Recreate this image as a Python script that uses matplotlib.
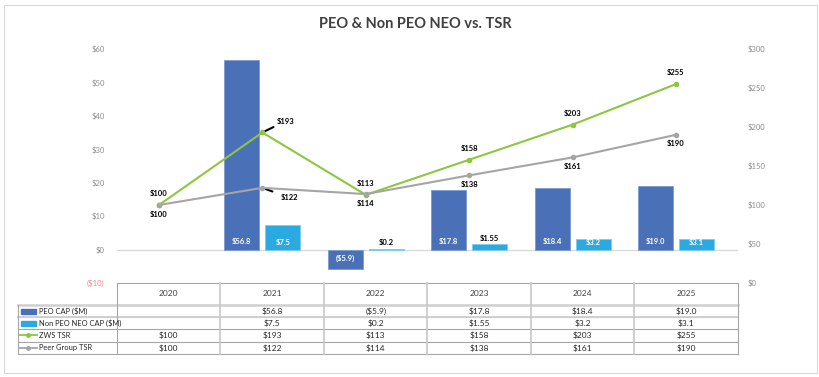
import matplotlib
matplotlib.use("Agg")
import matplotlib.pyplot as plt
from matplotlib.patches import Rectangle
from matplotlib.lines import Line2D

plt.rcParams['font.family'] = ['Lato', 'DejaVu Sans']

# Data
years = ["2020", "2021", "2022", "2023", "2024", "2025"]
peo_cap = [None, 56.8, -5.9, 17.8, 18.4, 19.0]
non_peo_cap = [None, 7.5, 0.2, 1.55, 3.2, 3.1]
zws_tsr = [100, 193, 113, 158, 203, 255]
peer_tsr = [100, 122, 114, 138, 161, 190]

left_ticks = [-10, 0, 10, 20, 30, 40, 50, 60]
right_ticks = [0, 50, 100, 150, 200, 250, 300]

c_peo = "#4A70B8"
c_non = "#2AAAE1"
c_zws = "#8DC63F"
c_peer = "#A5A5A5"

W, H = 820, 377
fig = plt.figure(figsize=(W / 100, H / 100), dpi=100)

def fx(px):
    return px / W

def fy(py):
    return 1 - py / H

# main plot area
x0, x1, ytop, ybot = 117, 738, 49, 283
ax = fig.add_axes([fx(x0), fy(ybot), fx(x1) - fx(x0), fy(ytop) - fy(ybot)])
ax2 = ax.twinx()

n = len(years)
xs = list(range(n))
bw = 0.338
off = 0.198

def money(v, fmt):
    if v < 0:
        return "($" + format(-v, fmt) + ")"
    return "$" + format(v, fmt)

for i in xs:
    v = peo_cap[i]
    if v is not None:
        ax.bar(i - off, v, bw, color=c_peo, edgecolor="#7D9AD0", linewidth=0.6, zorder=2)
        dy = 6 if v > 0 else -6.5
        ax.annotate(money(v, ".1f"), (i - off, 0), xytext=(0, dy), textcoords="offset points",
                    ha="center", va="center", fontsize=5.5, fontweight="bold", color="white", zorder=5)
    v = non_peo_cap[i]
    if v is not None:
        ax.bar(i + off, v, bw, color=c_non, edgecolor="#7FCBEE", linewidth=0.6, zorder=2)
        if v > 2.5:
            ax.annotate(money(v, "g"), (i + off, 0), xytext=(0, 5), textcoords="offset points",
                        ha="center", va="center", fontsize=5.5, fontweight="bold", color="white", zorder=5)
        else:
            ax.annotate(money(v, "g"), (i + off, v), xytext=(0, 4.5), textcoords="offset points",
                        ha="center", va="center", fontsize=5.5, fontweight="bold", color="black", zorder=5)

ax.axhline(0, color="#D9D9D9", linewidth=0.9, zorder=1)
ax.set_xlim(-0.406, 5.6)
ax.set_ylim(-10, 60)
ax2.set_ylim(0, 300)

ax2.plot(xs, zws_tsr, color=c_zws, linewidth=1.5, marker="o", markersize=3, zorder=4)
ax2.plot(xs, peer_tsr, color=c_peer, linewidth=1.5, marker="o", markersize=3, zorder=4)

# TSR labels
for i in xs:
    if i == 1:
        ax2.annotate("$" + str(zws_tsr[i]), (i, zws_tsr[i]), xytext=(10, 8), textcoords="offset points",
                     ha="left", va="center", fontsize=5.5, fontweight="bold",
                     arrowprops=dict(arrowstyle="-", color="black", lw=1.5, shrinkA=0, shrinkB=1))
        ax2.annotate("$" + str(peer_tsr[i]), (i, peer_tsr[i]), xytext=(13, -7), textcoords="offset points",
                     ha="left", va="center", fontsize=5.5, fontweight="bold",
                     arrowprops=dict(arrowstyle="-", color="black", lw=1.5, shrinkA=4, shrinkB=1))
    else:
        ax2.annotate("$" + str(zws_tsr[i]), (i, zws_tsr[i]), xytext=(0, 8), textcoords="offset points",
                     ha="center", va="center", fontsize=5.5, fontweight="bold")
        ax2.annotate("$" + str(peer_tsr[i]), (i, peer_tsr[i]), xytext=(0, -6.5), textcoords="offset points",
                     ha="center", va="center", fontsize=5.5, fontweight="bold")

for a in (ax, ax2):
    for s in a.spines.values():
        s.set_visible(False)
    a.set_xticks([])
    a.patch.set_visible(False)

ax.set_yticks(left_ticks)
ax.set_yticklabels([money(t, "d") for t in left_ticks], fontsize=5.5, color="#8C8C8C")
ax.tick_params(axis="y", length=0, pad=9)
for t, lab in zip(left_ticks, ax.get_yticklabels()):
    if t < 0:
        lab.set_color("#F28C8C")
ax2.set_yticks(right_ticks)
ax2.set_yticklabels([money(t, "d") for t in right_ticks], fontsize=5.5, color="#8C8C8C")
ax2.tick_params(axis="y", length=0, pad=7)

# overlay for frame, title and data table
lay = fig.add_axes([0, 0, 1, 1], zorder=-1)
lay.set_xlim(0, W)
lay.set_ylim(H, 0)
lay.axis("off")
lay.add_patch(Rectangle((4, 5), 813, 368, fill=False, edgecolor="#D9D9D9", linewidth=0.8))
lay.text(415, 24, "PEO & Non PEO NEO vs. TSR", ha="center", va="center",
         fontsize=10.5, fontweight="bold", color="#404040")

tab = fig.add_axes([0, 0, 1, 1], zorder=3)
tab.set_xlim(0, W)
tab.set_ylim(H, 0)
tab.axis("off")
tab.patch.set_visible(False)

col_w = (x1 - x0) / n
head_top, head_bot = 283, 305
row_edges = [305, 317, 329, 341.5, 354]
lc = "#A6A6A6"
# grid
tab.plot([x0, x1], [head_top, head_top], color=lc, lw=0.8)
for yv in row_edges:
    tab.plot([18, x1], [yv, yv], color=lc, lw=0.8)
tab.plot([18, x1], [305, 305], color="#D0D0D0", lw=1.8)
tab.plot([18, x1], [317, 317], color="#D0D0D0", lw=1.4)
tab.plot([18, 18], [305, 354], color=lc, lw=0.8)
for j in range(n + 1):
    xv = x0 + j * col_w
    tab.plot([xv, xv], [head_top, 354], color=lc if j in (0, n) else "#C8C8C8",
             lw=0.8 if j in (0, n) else 1.2)

for j, yr in enumerate(years):
    tab.text(x0 + (j + 0.5) * col_w, (head_top + head_bot) / 2, yr, ha="center", va="center",
             fontsize=6, color="#404040")

row_names = ["PEO CAP ($M)", "Non PEO NEO CAP ($M)", "ZWS TSR", "Peer Group TSR"]
row_vals = [
    ["" if v is None else money(v, ".1f") for v in peo_cap],
    ["" if v is None else money(v, "g") for v in non_peo_cap],
    [money(v, "d") for v in zws_tsr],
    [money(v, "d") for v in peer_tsr],
]
for r in range(4):
    yc = (row_edges[r] + row_edges[r + 1]) / 2
    if r == 0:
        tab.add_patch(Rectangle((21, yc - 2.5), 15, 5, color=c_peo))
    elif r == 1:
        tab.add_patch(Rectangle((21, yc - 2.5), 15, 5, color=c_non))
    else:
        colr = c_zws if r == 2 else c_peer
        tab.add_line(Line2D([20, 37], [yc, yc], color=colr, lw=1.3))
        tab.plot([28.5], [yc], marker="o", markersize=2.5, color=colr)
    tab.text(39, yc, row_names[r], ha="left", va="center", fontsize=5.4, color="#262626")
    for j, s in enumerate(row_vals[r]):
        tab.text(x0 + (j + 0.5) * col_w, yc, s, ha="center", va="center", fontsize=6, color="#262626")

fig.savefig("out.png", dpi=100)
